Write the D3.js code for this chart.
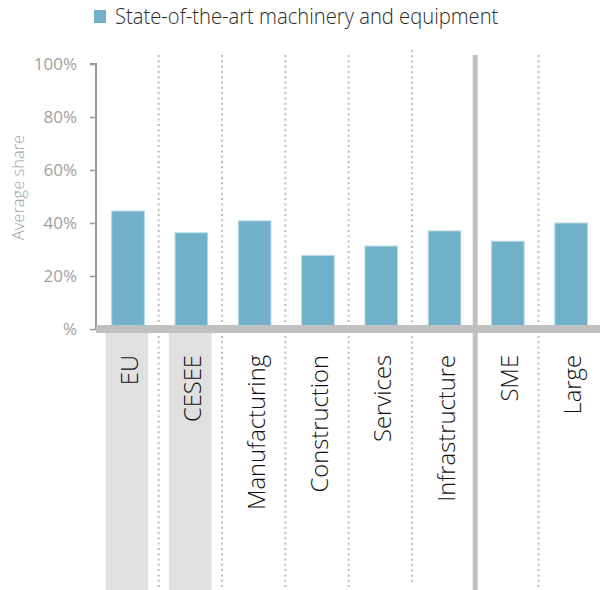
<!DOCTYPE html>
<html>
<head>
<meta charset="utf-8">
<script src="https://cdn.jsdelivr.net/npm/d3@7"></script>
<style>
body { margin: 0; background: #fff; }
text { font-family: 'Open Sans', 'Noto Sans', sans-serif; }
</style>
</head>
<body>
<script>
(function(document, window){
'use strict';

// data
var categories = ['EU', 'CESEE', 'Manufacturing', 'Construction', 'Services', 'Infrastructure', 'SME', 'Large'];
var values = [44.5, 36.3, 40.8, 27.7, 31.3, 37.0, 33.1, 40.0];
var highlighted = ['EU', 'CESEE'];
var groupBreaks = ['Infrastructure'];
var yTicks = [0, 20, 40, 60, 80, 100];
var yTickLabels = ['%', '20%', '40%', '60%', '80%', '100%'];
var seriesName = 'State-of-the-art machinery and equipment';
var yTitle = 'Average share';

var width = 600;
var height = 590;
var barColor = '#70b0c8';

var svg = d3.select('body').append('svg')
	.attr('width', width)
	.attr('height', height);

var x = d3.scaleBand()
	.domain(categories)
	.range([96.4, 602.8])
	.paddingInner(0.485)
	.paddingOuter(0.2425);

var y = d3.scaleLinear()
	.domain([0, 100])
	.range([329, 64]);

var step = x.step();

// grey boxes behind the first two labels
svg.selectAll('rect.hl')
	.data(highlighted)
	.enter()
	.append('rect')
	.attr('class', 'hl')
	.attr('x', function(d){ return x(d) + x.bandwidth() / 2 - 22.5; })
	.attr('y', 333)
	.attr('width', 42.7)
	.attr('height', height - 333)
	.attr('fill', '#e0e0e0');

// separators between categories
var seps = categories.slice(0, -1);
svg.selectAll('line.sep')
	.data(seps)
	.enter()
	.append('line')
	.attr('class', 'sep')
	.attr('x1', function(d){ return x(d) + x.bandwidth() + (step - x.bandwidth()) / 2 - 1; })
	.attr('x2', function(d){ return x(d) + x.bandwidth() + (step - x.bandwidth()) / 2 - 1; })
	.attr('y1', function(d){ return d === 'Services' ? 50 : 55; })
	.attr('y2', function(d){ return d === 'Services' ? 583 : height; })
	.attr('stroke', function(d){ return groupBreaks.indexOf(d) >= 0 ? '#c0c0c0' : '#bdbdbd'; })
	.attr('stroke-width', function(d){ return groupBreaks.indexOf(d) >= 0 ? 5 : 2; })
	.attr('stroke-dasharray', function(d){ return groupBreaks.indexOf(d) >= 0 ? null : '2,3.3'; });

// bars
svg.selectAll('rect.bar')
	.data(values)
	.enter()
	.append('rect')
	.attr('class', 'bar')
	.attr('x', function(d, i){ return x(categories[i]); })
	.attr('y', function(d){ return y(d); })
	.attr('width', x.bandwidth())
	.attr('height', function(d){ return y(0) - y(d); })
	.attr('fill', barColor)
	.attr('stroke', '#b4d8e6')
	.attr('stroke-width', 1);

// y axis
var yAxis = d3.axisLeft(y)
	.tickValues(yTicks)
	.tickSize(6)
	.tickPadding(13)
	.tickFormat(function(d, i){ return yTickLabels[i]; });

var gy = svg.append('g')
	.attr('transform', 'translate(96,0)')
	.call(yAxis);

gy.select('.domain')
	.attr('stroke', '#9a9a9a')
	.attr('stroke-width', 2)
	.attr('d', 'M-6,' + y(100) + 'H0V' + y(0));
gy.selectAll('.tick line')
	.attr('stroke', '#9a9a9a')
	.attr('stroke-width', 1.5);
gy.selectAll('.tick text')
	.attr('fill', '#a0a0a0')
	.style('font-family', "'Open Sans', sans-serif")
	.style('font-size', '17px');

svg.append('text')
	.attr('transform', 'translate(24,' + ((y(0) + y(100)) / 2 - 9) + ') rotate(-90)')
	.attr('text-anchor', 'middle')
	.attr('fill', '#a0a0a0')
	.style('font-weight', 300)
	.style('font-size', '16.5px')
	.text(yTitle);

// thick baseline
svg.append('rect')
	.attr('x', 96)
	.attr('y', 325)
	.attr('width', width - 96)
	.attr('height', 8)
	.attr('fill', '#c0c0c0');

// category labels
svg.selectAll('text.cat')
	.data(categories)
	.enter()
	.append('text')
	.attr('class', 'cat')
	.attr('transform', function(d){
		return 'translate(' + (x(d) + x.bandwidth() / 2 + 10) + ',355) rotate(-90) scale(0.97,1)';
	})
	.attr('text-anchor', 'end')
	.attr('fill', '#111')
	.style('font-weight', 300)
	.style('font-size', '24.5px')
	.text(function(d){ return d; });

// legend
var legend = svg.append('g');
legend.append('rect')
	.attr('x', 94)
	.attr('y', 10)
	.attr('width', 12)
	.attr('height', 13)
	.attr('fill', barColor);
legend.append('text')
	.attr('transform', 'translate(115,24) scale(0.94,1)')
	.attr('fill', '#2a2a2a')
	.style('font-weight', 300)
	.style('font-size', '21.5px')
	.text(seriesName);

})(document, window);
</script>
</body>
</html>
